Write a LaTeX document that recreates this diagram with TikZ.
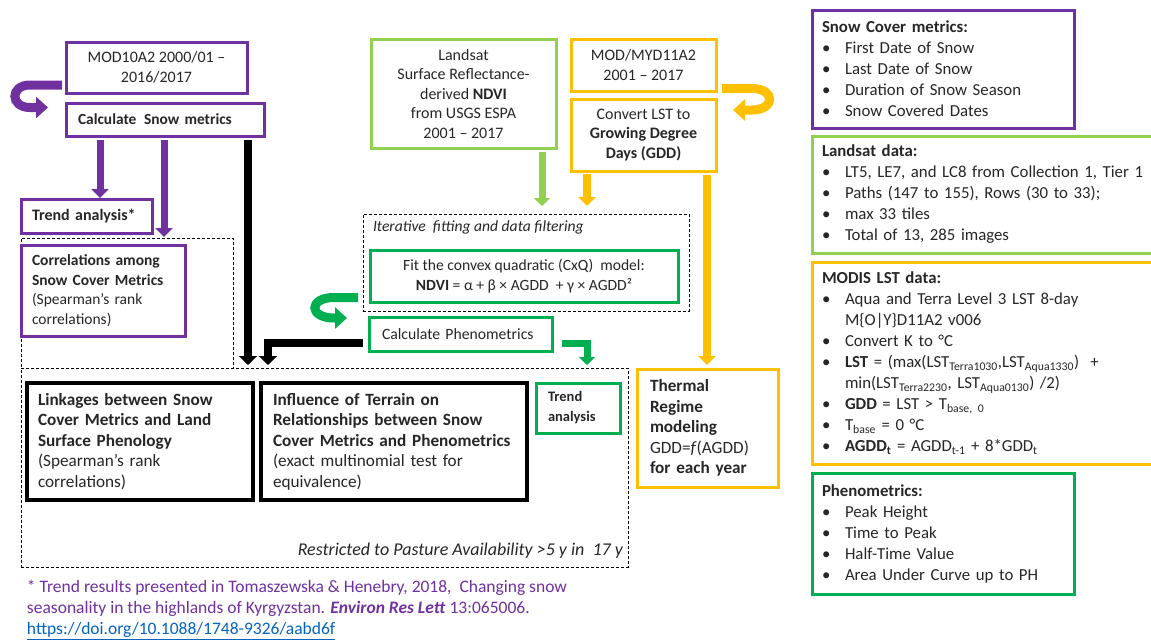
\documentclass[tikz,border=0pt]{standalone}
\usepackage{fontspec}
\setmainfont{Carlito}
\usetikzlibrary{arrows.meta}

\newcommand{\fa}{\fontsize{17.2}{20.5}\selectfont}
\newcommand{\fb}{\fontsize{16}{19.5}\selectfont}
\newcommand{\fc}{\fontsize{14.5}{20}\selectfont}
\newcommand{\fr}{\fontsize{16.8}{21}\selectfont}
\newcommand{\fn}{\fontsize{17.5}{21}\selectfont}
\newcommand{\bul}{\makebox[23pt][l]{\textbullet}}
\newcommand{\ind}{\hspace*{23pt}}

\begin{document}
\begin{tikzpicture}[x=1pt, y=-1pt,
    every node/.style={outer sep=0pt, text=txt},
    box/.style={draw, anchor=north west, inner xsep=11pt, inner ysep=3pt, align=left, font=\fa},
    pbox/.style={box, draw=purp, line width=3pt},
    gbox/.style={box, draw=grn, line width=3pt},
    lbox/.style={box, draw=lgrn, line width=3pt},
    obox/.style={box, draw=orng, line width=3pt},
    kbox/.style={box, draw=black, line width=4.5pt},
    dbox/.style={draw, anchor=north west, line width=0.8pt, dash pattern=on 3pt off 2pt},
    parrow/.style={draw=purp, line width=7pt, -{Triangle[width=17pt,length=9pt]}},
    karrow/.style={draw=black, line width=8.5pt, -{Triangle[width=18pt,length=9pt]}},
    garrow/.style={draw=grn, line width=7pt, -{Triangle[width=16pt,length=8pt]}},
    larrow/.style={draw=lgrn, line width=7pt, -{Triangle[width=16pt,length=8pt]}},
    oarrow/.style={draw=orng, line width=7.5pt, -{Triangle[width=17pt,length=9pt]}},
    uturn/.style={line width=9pt, -{Triangle[width=21pt,length=12pt]}}]
    \definecolor{purp}{HTML}{7030A0}
    \definecolor{grn}{HTML}{00B050}
    \definecolor{lgrn}{HTML}{92D050}
    \definecolor{orng}{HTML}{FFC000}
    \definecolor{lnk}{HTML}{0563C1}
    \definecolor{txt}{HTML}{262626}
    \useasboundingbox (0,0) rectangle (1151,640);
    \clip (0,0) rectangle (1151,640);
    % dashed groups
    \node[dbox, minimum width=212pt, minimum height=130pt] (snowgrp) at (21,238) {};
    \node[dbox, minimum width=607pt, minimum height=199pt] (results) at (21,368) {};
    \node[dbox, minimum width=326pt, minimum height=97pt] (iter) at (363,214) {};
    % snow cover branch
    \node[pbox, align=center, font=\fb, minimum width=181pt, minimum height=51pt] (mod10) at (66,42) {MOD10A2 2000/01 --\\2016/2017};
    \node[pbox, font=\fontsize{15.4}{19}\selectfont\bfseries, inner xsep=12pt, minimum width=198pt, minimum height=33pt, text width=174pt] (calcsnow) at (66,103) {Calculate\, Snow metrics};
    \node[pbox, font=\fb\bfseries, minimum width=131pt, minimum height=34pt, text width=109pt] (trendsnow) at (21,199) {Trend analysis*};
    \node[pbox, font=\fontsize{15.5}{19.5}\selectfont, minimum width=164pt, minimum height=91pt, text width=142pt] (corrsnow) at (21,245) {\textbf{Correlations among}\\\textbf{Snow Cover Metrics}\\(Spearman’s rank\\correlations)};
    % NDVI branch
    \node[lbox, align=center, font=\fb, minimum width=185pt, minimum height=109pt] (landsat) at (371,39) {Landsat\\Surface Reflectance-\\derived \textbf{NDVI}\\from USGS ESPA\\2001 -- 2017};
    \node[gbox, align=center, font=\fontsize{15.6}{20}\selectfont, minimum width=308pt, minimum height=52pt] (fit) at (370,250) {Fit the convex quadratic (CxQ)\ \ model:\\\textbf{NDVI} = α + β × AGDD\ \ + γ × AGDD²};
    \node[gbox, font=\fontsize{15.7}{19}\selectfont, inner xsep=13pt, minimum width=183pt, minimum height=34pt, text width=157pt] (calcphen) at (369,317) {Calculate Phenometrics};
    \node[gbox, font=\fc\bfseries, inner xsep=12pt, minimum width=84pt, minimum height=50pt, text width=60pt] (trendphen) at (536,383) {Trend\\analysis};
    % LST branch
    \node[obox, align=center, font=\fb, minimum width=145pt, minimum height=52pt] (modlst) at (571,39) {MOD/MYD11A2\\2001 -- 2017};
    \node[obox, align=center, font=\fb, minimum width=145pt, minimum height=72pt] (convlst) at (571,99) {Convert LST to\\\textbf{Growing Degree}\\\textbf{Days (GDD)}};
    \node[obox, inner xsep=13pt, minimum width=141pt, minimum height=118pt, text width=115pt] (thermal) at (637,369) {\textbf{Thermal}\\\textbf{Regime}\\\textbf{modeling}\\GDD=\textit{f}(AGDD)\\\textbf{for each year}};
    % results
    \node[kbox, minimum width=226pt, minimum height=117pt, text width=204pt] (linkages) at (27,383) {\textbf{Linkages between Snow}\\\textbf{Cover Metrics and Land}\\\textbf{Surface Phenology}\\(Spearman’s rank\\correlations)};
    \node[kbox, inner xsep=12pt, minimum width=266pt, minimum height=117pt, text width=242pt] (influence) at (261,383) {\textbf{Influence of Terrain on}\\\textbf{Relationships between Snow}\\\textbf{Cover Metrics and Phenometrics}\\(exact multinomial test for\\equivalence)};
    % labels
    \node[anchor=north west, inner sep=0pt, font=\fontsize{15.6}{19}\selectfont\itshape] (iterlbl) at ([xshift=10pt,yshift=-7pt]iter.north west) {Iterative\ \ fitting and data filtering};
    \node[anchor=south east, inner sep=0pt, font=\fontsize{18}{21}\selectfont\itshape] (restrict) at ([xshift=-5pt,yshift=9pt]results.south east) {Restricted to Pasture Availability >5 y in\ \ 17 y};
    % lists on the right
    \node[pbox, font=\fr, inner xsep=10pt, minimum width=262pt, minimum height=118pt, text width=242pt] (snowlist) at (812,10) {\textbf{Snow Cover metrics:}\\\bul First Date of Snow\\\bul Last Date of Snow\\\bul Duration of Snow Season\\\bul Snow Covered Dates};
    \node[lbox, font=\fr, inner xsep=10pt, minimum width=345pt, minimum height=117pt, text width=325pt] (landlist) at (812,136) {\textbf{Landsat data:}\\\bul LT5, LE7, and LC8 from Collection 1, Tier 1\\\bul Paths (147 to 155), Rows (30 to 33);\\\bul max 33\ tiles\\\bul Total of 13,\ 285\ images};
    \node[obox, font=\fr, inner xsep=10pt, minimum width=345pt, minimum height=202pt, text width=325pt] (modislist) at (812,262) {\textbf{MODIS LST data:}\\\bul Aqua and Terra Level 3 LST 8-day\\\ind M\{O|Y\}D11A2 v006\\\bul Convert K to °C\\\bul \textbf{LST} = (max(LST\textsubscript{Terra1030},LST\textsubscript{Aqua1330})\ \ +\\\ind min(LST\textsubscript{Terra2230}, LST\textsubscript{Aqua0130}) /2)\\\bul \textbf{GDD} = LST > T\textsubscript{base, 0}\\\bul T\textsubscript{base} = 0 °C\\\bul \textbf{AGDD\textsubscript{t}} = AGDD\textsubscript{t-1} + 8*GDD\textsubscript{t}};
    \node[gbox, font=\fr, inner xsep=10pt, minimum width=262pt, minimum height=121pt, text width=242pt] (phenlist) at (812,473) {\textbf{Phenometrics:}\\\bul Peak Height\\\bul Time to Peak\\\bul Half-Time Value\\\bul Area Under Curve up to PH};
    % footnote
    \node[anchor=north west, inner sep=0pt, align=left, font=\fn, text=purp] (note) at (27,580) {* Trend results presented in Tomaszewska \& Henebry, 2018,\ \ Changing snow\\seasonality in the highlands of Kyrgyzstan. \textbf{\textit{Environ Res Lett}} 13:065006.\\\textcolor{lnk}{\underline{https://doi.org/10.1088/1748-9326/aabd6f}}};
    % u-turn arrows
    \draw[uturn, draw=purp] ([xshift=-4pt,yshift=-17.5pt]mod10.west) -- ++(-32,0) to[out=180,in=180,looseness=2.3] ++(0,22.5) -- ([xshift=-18pt,yshift=12pt]calcsnow.west);
    \draw[uturn, draw=orng] ([xshift=6pt,yshift=-23.5pt]modlst.east) -- ++(30,0) to[out=0,in=0,looseness=2.8] ++(0,21.5) -- ([xshift=17pt,yshift=-11pt]convlst.north east);
    \draw[uturn, draw=grn] ([xshift=-12pt,yshift=-21.5pt]fit.west) -- ++(-24,0) to[out=180,in=180,looseness=3.2] ++(0,20.5) -- ([xshift=-22pt,yshift=-1pt]calcphen.north west);
    % down arrows
    \coordinate (a1) at ([xshift=34pt,yshift=-4pt]calcsnow.south west);
    \coordinate (a2) at ([xshift=98pt,yshift=-4pt]calcsnow.south west);
    \coordinate (a3) at ([xshift=182pt,yshift=-4pt]calcsnow.south west);
    \coordinate (l1) at ([xshift=-14pt,yshift=-4pt]landsat.south east);
    \coordinate (o1) at ([xshift=16pt,yshift=-3pt]convlst.south west);
    \coordinate (o2) at ([xshift=-9pt,yshift=-4pt]convlst.south east);
    \coordinate (k2) at ([xshift=7pt]influence.north west);
    \coordinate (g2) at ([xshift=51pt]trendphen.north west);
    \draw[parrow, shorten >=1pt] (a1) -- (a1 |- trendsnow.north);
    \draw[parrow, shorten >=1pt] (a2) -- (a2 |- snowgrp.north);
    \draw[karrow, shorten >=3pt] (a3) -- (a3 |- results.north);
    \draw[larrow, shorten >=8pt] (l1) -- (l1 |- iter.north);
    \draw[oarrow, shorten >=8pt] (o1) -- (o1 |- iter.north);
    \draw[oarrow, shorten >=4pt] (o2) -- (o2 |- thermal.north);
    \draw[karrow, shorten >=3pt] ([xshift=-6pt,yshift=-9pt]calcphen.west) -| (k2 |- results.north);
    \draw[garrow, shorten >=3pt] ([xshift=10pt,yshift=-9pt]calcphen.east) -| (g2 |- results.north);
\end{tikzpicture}
\end{document}
